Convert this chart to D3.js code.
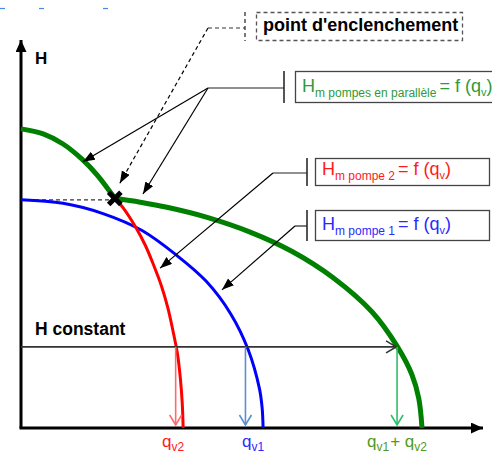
<!DOCTYPE html>
<html>
<head>
<meta charset="utf-8">
<script src="https://cdn.jsdelivr.net/npm/d3@7"></script>
<style>
	body { margin: 0; background: #fff; }
	svg { display: block; font-family: 'Liberation Sans', Arial, sans-serif; }
</style>
</head>
<body>
<div id="chart"></div>
<script>
// courbes (q en unites arbitraires 0-100, H en 0-100)
var pompe1 = [[0,58.8],[9.1,57.9],[17.9,55.2],[26.2,50.9],[33.7,44.5],[40.1,37.8],[45.4,29.4],[49.2,20.1],[51.6,10.2],[52.2,5.1],[52.4,0]];
var pompe2 = [[20.4,59.2],[22.5,56.1],[24.8,51.8],[26.9,47.1],[28.7,42.0],[30.4,36.6],[31.8,30.9],[32.9,25.0],[33.9,18.9],[34.5,12.7],[34.9,6.4],[35.1,0]];
var paralleleAvant = [[0,77.1],[4.8,75.8],[9.1,73.2],[13.2,69.3],[16.5,65.2],[20.3,59.2]];
var paralleleApres = [[20.3,59.2],[25.8,58.2],[31.6,56.9],[40.3,54.3],[49.6,50.5],[58.7,45.5],[67.5,38.8],[76.0,29.9],[81.4,21.1],[84.6,13.8],[86.1,7.6],[86.8,0]];

var enclenchement = [20.3, 59.2];
var hConstant = 20.9;
var qConstant = [33.8, 48.8, 81.4];   // qv2, qv1, qv1+qv2

var axisLabels = ['H', 'H constant'];
var qLabels = [['q','v2'], ['q','v1'], ['q','v1','+ q','v2']];

var w = 492, h = 456;

var x = d3.scaleLinear().domain([0, 100]).range([21, 483]);
var y = d3.scaleLinear().domain([0, 100]).range([428, 40]);

var svg = d3.select('#chart')
	.append('svg')
		.attr('width', w)
		.attr('height', h);

var defs = svg.append('defs');

defs.append('marker')
	.attr('id', 'tri')
	.attr('markerUnits', 'userSpaceOnUse')
	.attr('markerWidth', 14).attr('markerHeight', 10)
	.attr('refX', 12).attr('refY', 4.5)
	.attr('orient', 'auto')
	.append('path')
		.attr('d', 'M0,0 L12,4.5 L0,9 Z')
		.attr('fill', '#000');

defs.append('marker')
	.attr('id', 'axe')
	.attr('markerUnits', 'userSpaceOnUse')
	.attr('markerWidth', 14).attr('markerHeight', 12)
	.attr('refX', 12).attr('refY', 5.5)
	.attr('orient', 'auto')
	.append('path')
		.attr('d', 'M0,0 L12,5.5 L0,11 Z')
		.attr('fill', '#000');

function chevron(id, color) {
	defs.append('marker')
		.attr('id', id)
		.attr('markerUnits', 'userSpaceOnUse')
		.attr('markerWidth', 14).attr('markerHeight', 16)
		.attr('refX', 11).attr('refY', 7)
		.attr('orient', 'auto')
		.append('path')
			.attr('d', 'M1,1 L11,7 L1,13')
			.attr('fill', 'none')
			.attr('stroke', color)
			.attr('stroke-width', 1.6);
}
chevron('chevNoir', '#333');
chevron('chevRouge', '#ff6b6b');
chevron('chevBleu', '#5b8fd0');
chevron('chevVert', '#2fbf6a');

// petits traits bleus en haut
svg.selectAll('.tiret')
	.data([0, 39, 103])
	.enter()
	.append('line')
		.attr('x1', (d) => d).attr('x2', (d) => d + 5)
		.attr('y1', 8.5).attr('y2', 8.5)
		.attr('stroke', '#4a86e8')
		.attr('stroke-width', 1.2);

// axes
svg.append('line')
	.attr('x1', x(0)).attr('y1', y(0))
	.attr('x2', x(0)).attr('y2', y(100))
	.attr('stroke', '#000').attr('stroke-width', 3)
	.attr('marker-end', 'url(#axe)');
svg.append('line')
	.attr('x1', x(0) - 1.5).attr('y1', y(0))
	.attr('x2', x(100)).attr('y2', y(0))
	.attr('stroke', '#000').attr('stroke-width', 3)
	.attr('marker-end', 'url(#axe)');

svg.append('text')
	.attr('x', 35).attr('y', 64)
	.attr('font-size', 17).attr('font-weight', 'bold')
	.text(axisLabels[0]);

// ligne pointillee vers le point d'enclenchement
svg.append('line')
	.attr('x1', x(0)).attr('y1', y(pompe1[0][1]))
	.attr('x2', x(enclenchement[0])).attr('y2', y(pompe1[0][1]))
	.attr('stroke', '#333').attr('stroke-width', 1.3)
	.attr('stroke-dasharray', '4,3');

var line = d3.line()
	.x((d) => x(d[0]))
	.y((d) => y(d[1]))
	.curve(d3.curveCatmullRom.alpha(0.5));

svg.append('path')
	.attr('d', line(pompe1))
	.attr('fill', 'none').attr('stroke', '#0000ff').attr('stroke-width', 3);
svg.append('path')
	.attr('d', line(pompe2))
	.attr('fill', 'none').attr('stroke', '#ff0000').attr('stroke-width', 3);
svg.append('path')
	.attr('d', line(paralleleAvant))
	.attr('fill', 'none').attr('stroke', '#008000').attr('stroke-width', 5);
svg.append('path')
	.attr('d', line(paralleleApres))
	.attr('fill', 'none').attr('stroke', '#008000').attr('stroke-width', 5);

// H constant
svg.append('text')
	.attr('x', 35).attr('y', 335)
	.attr('font-size', 17.5).attr('font-weight', 'bold')
	.text(axisLabels[1]);

svg.append('line')
	.attr('x1', x(0)).attr('y1', y(hConstant))
	.attr('x2', x(qConstant[2]) - 1).attr('y2', y(hConstant))
	.attr('stroke', '#333').attr('stroke-width', 1.6)
	.attr('marker-end', 'url(#chevNoir)');

var descentes = [['#ff6b6b', 'chevRouge', -1.5], ['#5b8fd0', 'chevBleu', -1], ['#2fbf6a', 'chevVert', 0]];
svg.selectAll('.descente')
	.data(qConstant)
	.enter()
	.append('line')
		.attr('x1', (d, i) => x(d) + descentes[i][2])
		.attr('x2', (d, i) => x(d) + descentes[i][2])
		.attr('y1', y(hConstant))
		.attr('y2', y(0) - 3)
		.attr('stroke', (d, i) => descentes[i][0])
		.attr('stroke-width', 1.6)
		.attr('marker-end', (d, i) => 'url(#' + descentes[i][1] + ')');

// point d'enclenchement
svg.append('path')
	.attr('transform', 'translate(' + x(enclenchement[0]) + ',' + y(enclenchement[1]) + ')')
	.attr('d', d3.symbol(d3.symbolX, 100)())
	.attr('stroke', '#000').attr('stroke-width', 5)
	.attr('stroke-linecap', 'butt');

// libelles q
var qColors = ['#ff1a1a', '#2a2aff', '#4f9a1e'];
var qX = [162, 242, 367];
qLabels.forEach(function (parts, i) {
	var t = svg.append('text')
		.attr('x', qX[i]).attr('y', 447)
		.attr('font-size', 17)
		.attr('fill', qColors[i]);
	parts.forEach(function (p, j) {
		var sub = j % 2 == 1;
		t.append('tspan')
			.attr('font-size', sub ? 12 : 17)
			.attr('dy', sub ? 3.5 : (j == 0 ? 0 : -3.5))
			.attr('dx', (!sub && j > 0) ? 1 : 0)
			.text(p);
	});
});

// annotations
function fleche(x1, y1, x2, y2, dash) {
	svg.append('line')
		.attr('x1', x1).attr('y1', y1)
		.attr('x2', x2).attr('y2', y2)
		.attr('stroke', '#000').attr('stroke-width', 1.2)
		.attr('stroke-dasharray', dash ? '4,3' : null)
		.attr('marker-end', 'url(#tri)');
}
function trait(x1, y1, x2, y2, col, sw, dash) {
	svg.append('line')
		.attr('x1', x1).attr('y1', y1)
		.attr('x2', x2).attr('y2', y2)
		.attr('stroke', col).attr('stroke-width', sw)
		.attr('stroke-dasharray', dash ? '4,3' : null);
}

// point d'enclenchement (pointille)
trait(208, 28, 245, 28, '#333', 1.2, true);
trait(245, 12, 245, 41, '#333', 1.3, true);
fleche(208, 28, x(21.4), y(63.1), true);
svg.append('rect')
	.attr('x', 256.5).attr('y', 12.5).attr('width', 206).attr('height', 28)
	.attr('fill', 'none').attr('stroke', '#555').attr('stroke-width', 1.3)
	.attr('stroke-dasharray', '4,3');
svg.append('text')
	.attr('x', 263).attr('y', 31)
	.attr('font-size', 18).attr('font-weight', 'bold')
	.text("point d'enclenchement");

// boites des courbes
var boites = [
	{ coul: '#2e9a3a', sub: 'm pompes en parallèle', bx: 295, by: 71, bw: 210, bh: 31, px: 284, hy: 88, fx: 208 },
	{ coul: '#ff1a1a', sub: 'm pompe 2', bx: 315, by: 158, bw: 174, bh: 27, px: 307, hy: 173, fx: 273 },
	{ coul: '#2a2aff', sub: 'm pompe 1', bx: 315, by: 210, bw: 174, bh: 30, px: 307, hy: 226, fx: 295 }
];

boites.forEach(function (b) {
	svg.append('rect')
		.attr('x', b.bx + 0.5).attr('y', b.by + 0.5)
		.attr('width', b.bw).attr('height', b.bh)
		.attr('fill', 'none').attr('stroke', '#444').attr('stroke-width', 1.3);
	trait(b.px, b.by, b.px, b.by + b.bh + 1, '#555', 2, false);
	trait(b.fx, b.hy, b.px, b.hy, '#222', 1.2, false);

	var t = svg.append('text')
		.attr('x', b.bx + 7).attr('y', b.by + b.bh - 10)
		.attr('fill', b.coul)
		.attr('font-size', 18);
	t.append('tspan').text('H');
	t.append('tspan').attr('font-size', 12).attr('dy', 5).text(b.sub);
	t.append('tspan').attr('dy', -5).attr('dx', 3).text('= f (q');
	t.append('tspan').attr('font-size', 11).attr('dy', 4).text('v');
	t.append('tspan').attr('dy', -4).text(')');
});

// fleches des courbes
fleche(208, 88, x(13.4), y(68.6), false);
fleche(208, 88, x(26.4), y(60.3), false);
fleche(273, 173, x(30.1), y(41.2), false);
fleche(295, 226, x(43.5), y(35.6), false);
</script>
</body>
</html>
